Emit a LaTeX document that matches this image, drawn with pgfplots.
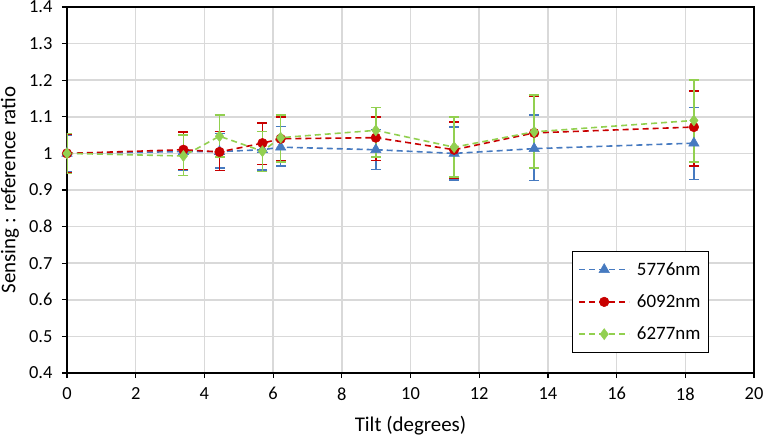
\documentclass[border=0pt]{standalone}
\usepackage{pgfplots}
\pgfplotsset{compat=1.18}
\usepackage{fontspec}
\setmainfont{Carlito}
\definecolor{cblue}{RGB}{70,122,192}
\definecolor{cred}{RGB}{200,0,0}
\definecolor{cgreen}{RGB}{146,208,80}
\definecolor{cgrid}{RGB}{217,217,217}

\pgfplotstableread{
x y ep em
0 1.000 0.050 0.050
3.39 1.005 0.045 0.050
4.44 1.005 0.050 0.045
5.69 1.010 0.050 0.055
6.22 1.017 0.057 0.052
8.99 1.010 0.055 0.054
11.27 1.000 0.072 0.072
13.6 1.013 0.092 0.087
18.25 1.028 0.098 0.099
}\blue
\pgfplotstableread{
x y ep em
0 1.000 0.053 0.053
3.39 1.010 0.048 0.054
4.44 1.004 0.056 0.051
5.69 1.028 0.055 0.058
6.22 1.040 0.060 0.059
8.99 1.043 0.057 0.063
11.27 1.010 0.076 0.077
13.6 1.056 0.099 0.095
18.25 1.072 0.098 0.106
}\red
\pgfplotstableread{
x y ep em
0 1.000 0.055 0.055
3.39 0.993 0.057 0.053
4.44 1.047 0.058 0.057
5.69 1.006 0.054 0.055
6.22 1.043 0.062 0.067
8.99 1.063 0.062 0.073
11.27 1.017 0.083 0.082
13.6 1.059 0.101 0.099
18.25 1.090 0.110 0.114
}\green

\begin{document}
\begin{tikzpicture}
\useasboundingbox (-67bp,-65bp) rectangle (696bp,373bp);
\begin{axis}[
  at={(0,0)}, anchor=south west,
  scale only axis,
  width=687bp, height=366bp,
  xmin=0, xmax=20, ymin=0.4, ymax=1.4,
  xtick={0,2,...,20},
  ytick={0.4,0.5,0.6,0.7,0.8,0.9,1,1.1,1.2,1.3,1.4},
  yticklabels={0.4,0.5,0.6,0.7,0.8,0.9,1,1.1,1.2,1.3,1.4},
  /pgf/number format/assume math mode=true,
  tick label style={font=\fontsize{18.5}{22}\selectfont, black},
  xticklabel style={yshift=-6bp},
  yticklabel style={xshift=-6bp},
  xtick pos=lower, ytick pos=left,
  tick align=outside,
  major tick length=5bp,
  every tick/.style={black, line width=1.2bp},
  axis line style={black, line width=1.5bp},
  grid=major,
  major grid style={cgrid, line width=1.5bp},
  xlabel={Tilt (degrees)},
  ylabel={Sensing : reference ratio},
  label style={font=\fontsize{21}{24}\selectfont},
  xlabel style={at={(axis description cs:0.5,0)}, anchor=center, yshift=-53bp},
  ylabel style={at={(axis description cs:0,0.5)}, anchor=center, yshift=57bp},
  legend style={at={(0.9345,0.055)}, anchor=south east, draw=black, line width=1.2bp,
    font=\fontsize{19}{22}\selectfont, row sep=14bp, column sep=5bp,
    inner xsep=6bp, inner ysep=9bp,
    cells={anchor=west}},
  legend image code/.code={%
    \draw[#1, line width=1.5bp, mark repeat=2, mark phase=2] plot coordinates {(0bp,0bp) (25bp,0bp) (50bp,0bp)};
  },
  every axis plot/.append style={line width=1.6bp, dash pattern=on 6bp off 4bp},
  error bars/error bar style={solid, line width=1.5bp},
  error bars/error mark options={rotate=90, mark size=5bp, line width=1.5bp, solid},
]
\addplot[cblue, mark=triangle*, mark size=6bp, mark options={solid, fill=cblue, draw=cblue, line width=0.5bp},
  error bars/.cd, y dir=both, y explicit]
  table[x=x, y=y, y error plus=ep, y error minus=em] {\blue};
\addlegendentry{5776nm}
\addplot[cred, mark=*, mark size=4.8bp, mark options={solid, fill=cred, draw=cred, line width=0.5bp},
  error bars/.cd, y dir=both, y explicit]
  table[x=x, y=y, y error plus=ep, y error minus=em] {\red};
\addlegendentry{6092nm}
\addplot[cgreen, mark=diamond*, mark size=5.5bp, mark options={solid, fill=cgreen, draw=cgreen, line width=0.5bp},
  error bars/.cd, y dir=both, y explicit]
  table[x=x, y=y, y error plus=ep, y error minus=em] {\green};
\addlegendentry{6277nm}
\end{axis}
\end{tikzpicture}
\end{document}
